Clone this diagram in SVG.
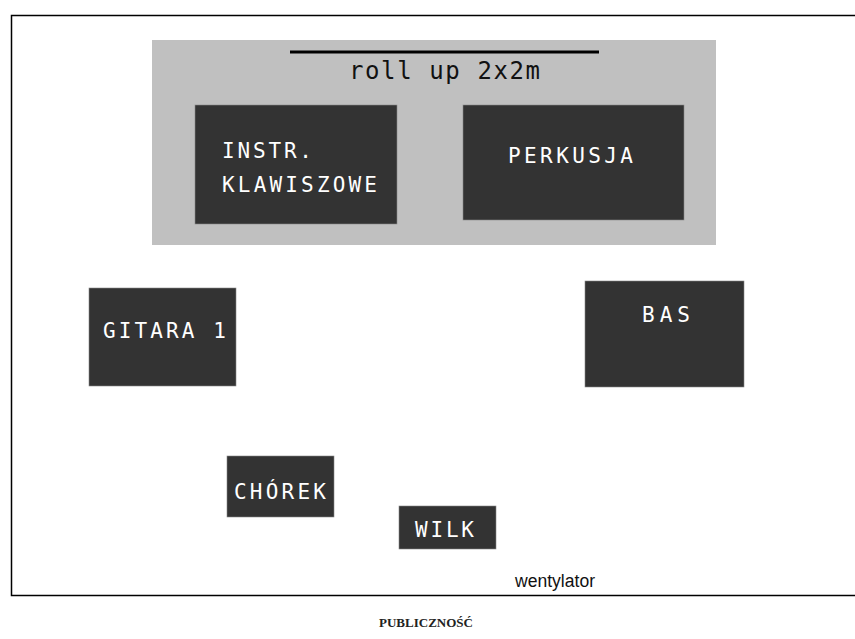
<svg xmlns="http://www.w3.org/2000/svg" width="855" height="639" viewBox="0 0 855 639">
<style>
.box{fill:#333333;stroke:#888;stroke-width:0.6}
.lbl{font-family:"DejaVu Sans Mono","Liberation Mono",monospace;font-size:21px;fill:#ffffff}
</style>
<rect x="0" y="0" width="855" height="639" fill="#ffffff"/>
<path d="M860 15.5 H11.5 V595.5 H860" fill="none" stroke="#000" stroke-width="1.5"/>
<g id="stage">
<rect x="152" y="40" width="564" height="205" fill="#c0c0c0"/>
<line x1="290" y1="52" x2="599" y2="52" stroke="#000" stroke-width="3"/>
<text x="349" y="79" textLength="191" lengthAdjust="spacing" font-family="DejaVu Sans Mono, Liberation Mono, monospace" font-size="24" fill="#111">roll up 2x2m</text>
</g>
<g id="keys">
<rect class="box" x="195" y="105" width="202" height="119"/>
<text class="lbl" x="222" y="158" textLength="90" lengthAdjust="spacing">INSTR.</text>
<text class="lbl" x="222" y="192" textLength="155" lengthAdjust="spacing">KLAWISZOWE</text>
</g>
<g id="perkusja">
<rect class="box" x="463" y="105" width="221" height="115"/>
<text class="lbl" x="508" y="163" textLength="125" lengthAdjust="spacing">PERKUSJA</text>
</g>
<g id="gitara">
<rect class="box" x="89" y="288" width="147" height="98"/>
<text class="lbl" x="103" y="338" textLength="123" lengthAdjust="spacing">GITARA 1</text>
</g>
<g id="bas">
<rect class="box" x="585" y="281" width="159" height="106"/>
<text class="lbl" x="642" y="322" textLength="48" lengthAdjust="spacing">BAS</text>
</g>
<g id="chorek">
<rect class="box" x="227" y="456" width="107" height="61"/>
<text class="lbl" x="234" y="499" textLength="92" lengthAdjust="spacing">CHÓREK</text>
</g>
<g id="wilk">
<rect class="box" x="399" y="506" width="97" height="43"/>
<text class="lbl" x="415" y="537" textLength="59" lengthAdjust="spacing">WILK</text>
</g>
<g id="wentylator">
<text x="515" y="587" textLength="80" lengthAdjust="spacingAndGlyphs" font-family="Liberation Sans, Arial, sans-serif" font-size="18" fill="#111">wentylator</text>
</g>
<g id="publicznosc">
<text x="426" y="627" text-anchor="middle" font-family="Liberation Serif, Times New Roman, serif" font-weight="bold" font-size="13" fill="#222">PUBLICZNOŚĆ</text>
</g>
<g id="connectors"/>
</svg>
